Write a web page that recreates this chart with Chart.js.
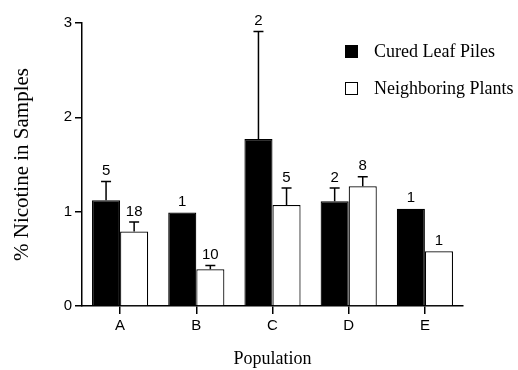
<!DOCTYPE html>
<html>
<head>
<meta charset="utf-8">
<script src="https://cdn.jsdelivr.net/npm/chart.js@4"></script>
<style>
  html, body { margin: 0; padding: 0; background: #fff; }
  #wrap { width: 518px; height: 370px; }
</style>
</head>
<body>
<div id="wrap"><canvas id="chart"></canvas></div>
<script>
// values
var categories = ['A', 'B', 'C', 'D', 'E'];
var curedValues = [1.12, 0.99, 1.77, 1.11, 1.03];
var curedErrTop = [1.32, null, 2.91, 1.25, null];
var curedN = ['5', '1', '2', '2', '1'];
var neighborValues = [0.79, 0.39, 1.07, 1.27, 0.58];
var neighborErrTop = [0.89, 0.43, 1.25, 1.37, null];
var neighborN = ['18', '10', '5', '8', '1'];
var yTicks = [0, 1, 2, 3];

var serif = '"Liberation Serif", "Times New Roman", serif';
var sans = '"Liberation Sans", Arial, sans-serif';

// error bars (upper only) and sample counts above them
var errorBars = {
  id: 'errorBars',
  afterDatasetsDraw: function(chart) {
    var ctx = chart.ctx;
    var y = chart.scales.y;
    ctx.save();
    chart.data.datasets.forEach(function(ds, di) {
      var meta = chart.getDatasetMeta(di);
      meta.data.forEach(function(bar, i) {
        var top = bar.y;
        if (ds.errTop[i] != null) {
          top = y.getPixelForValue(ds.errTop[i]);
          ctx.strokeStyle = '#000';
          ctx.lineWidth = 1.5;
          ctx.beginPath();
          ctx.moveTo(bar.x, bar.y);
          ctx.lineTo(bar.x, top);
          ctx.moveTo(bar.x - 5, top);
          ctx.lineTo(bar.x + 5, top);
          ctx.stroke();
        }
        ctx.fillStyle = '#000';
        ctx.font = '15px ' + sans;
        ctx.textAlign = 'center';
        ctx.textBaseline = 'bottom';
        ctx.fillText(ds.counts[i], bar.x, top - 3);
      });
    });
    ctx.restore();
  }
};

// legend drawn inside the plot area at top right
var insideLegend = {
  id: 'insideLegend',
  afterDraw: function(chart) {
    var ctx = chart.ctx;
    ctx.save();
    chart.data.datasets.forEach(function(ds, di) {
      var bx = 345, by = 45 + di * 37;
      ctx.fillStyle = ds.backgroundColor;
      ctx.fillRect(bx, by, 13, 13);
      ctx.strokeStyle = '#000';
      ctx.lineWidth = 1;
      ctx.strokeRect(bx + 0.5, by + 0.5, 12, 12);
      ctx.fillStyle = '#000';
      ctx.font = '18px ' + serif;
      ctx.textAlign = 'left';
      ctx.textBaseline = 'middle';
      ctx.fillText(ds.label, 374, by + 7);
    });
    ctx.restore();
  }
};

new Chart(document.getElementById('chart'), {
  type: 'bar',
  data: {
    labels: categories,
    datasets: [
      {
        label: 'Cured Leaf Piles',
        data: curedValues,
        errTop: curedErrTop,
        counts: curedN,
        backgroundColor: '#000',
        borderColor: '#000',
        borderWidth: 1.2
      },
      {
        label: 'Neighboring Plants',
        data: neighborValues,
        errTop: neighborErrTop,
        counts: neighborN,
        backgroundColor: '#fff',
        borderColor: '#000',
        borderWidth: 1.2
      }
    ]
  },
  options: {
    responsive: true,
    maintainAspectRatio: false,
    animation: false,
    layout: { padding: { top: 23, right: 55, left: 0, bottom: 0 } },
    datasets: { bar: { categoryPercentage: 0.737, barPercentage: 1.0 } },
    plugins: {
      legend: { display: false },
      tooltip: { enabled: false }
    },
    scales: {
      x: {
        offset: true,
        grid: { display: true, offset: false, drawOnChartArea: false, drawTicks: true, tickLength: 8, color: '#000', lineWidth: 1.5 },
        border: { display: true, color: '#000', width: 1.5 },
        ticks: { color: '#000', font: { family: sans, size: 15 }, padding: 3 },
        title: { display: true, text: 'Population', color: '#000', font: { family: serif, size: 18, lineHeight: 1.2 }, padding: { top: 0, bottom: 0 } },
        afterFit: function(s) { s.height = 64; }
      },
      y: {
        min: 0,
        max: 3,
        afterBuildTicks: function(s) { s.ticks = yTicks.map(function(v) { return { value: v }; }); },
        grid: { display: true, drawOnChartArea: false, drawTicks: true, tickLength: 7, color: '#000', lineWidth: 1.5 },
        border: { display: true, color: '#000', width: 1.5 },
        ticks: { color: '#000', font: { family: sans, size: 15 }, padding: 3 },
        title: { display: true, text: '% Nicotine in Samples', color: '#000', font: { family: serif, size: 21, lineHeight: 1.2 }, padding: { top: 10, bottom: 0 } },
        afterFit: function(s) { s.width = 82; }
      }
    }
  },
  plugins: [errorBars, insideLegend]
});
</script>
</body>
</html>
